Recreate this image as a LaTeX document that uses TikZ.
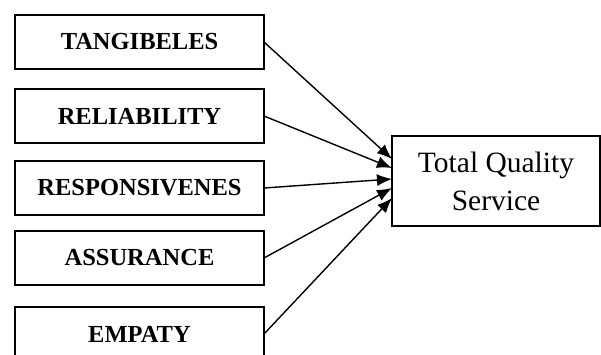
\documentclass[tikz,border=0pt]{standalone}
\usepackage{fontspec}
\setmainfont{Liberation Serif}
\usepackage{tikz}
\usetikzlibrary{positioning,shapes,arrows.meta}

\begin{document}
\begin{tikzpicture}[x=1pt, y=-1pt, >={Latex[length=15pt,width=12pt]},
        dim/.style={draw, line width=1.6pt, outer sep=0pt, inner sep=0pt,
            minimum width=249pt, minimum height=54pt,
            font=\fontsize{24.5}{28}\selectfont\bfseries},
        result/.style={draw, line width=1.6pt, outer sep=0pt, inner sep=0pt,
            minimum width=208pt, minimum height=90pt, align=center,
            font=\fontsize{29.5}{38}\selectfont},
        link/.style={->, line width=1.4pt}]
        \useasboundingbox (0,0) rectangle (601,354);
        \node [dim] (tangible) at (139.5,42) {TANGIBELES};
        \node [dim, below=20pt of tangible] (reliab) {RELIABILITY};
        \node [dim, below=18pt of reliab] (respon) {RESPONSIVENES};
        \node [dim, below=16pt of respon] (assur) {ASSURANCE};
        \node [dim, below=22pt of assur] (empaty) {EMPATY};
        \node [result] (tqs) at (496,181) {Total Quality\\Service};

        \draw [link] (tangible.east) -- ([yshift=22pt]tqs.west);
        \draw [link] (reliab.east) -- ([yshift=13pt]tqs.west);
        \draw [link] (respon.east) -- ([yshift=2pt]tqs.west);
        \draw [link] (assur.east) -- ([yshift=-7pt]tqs.west);
        \draw [link] (empaty.east) -- ([yshift=-17pt]tqs.west);
    \end{tikzpicture}
\end{document}
